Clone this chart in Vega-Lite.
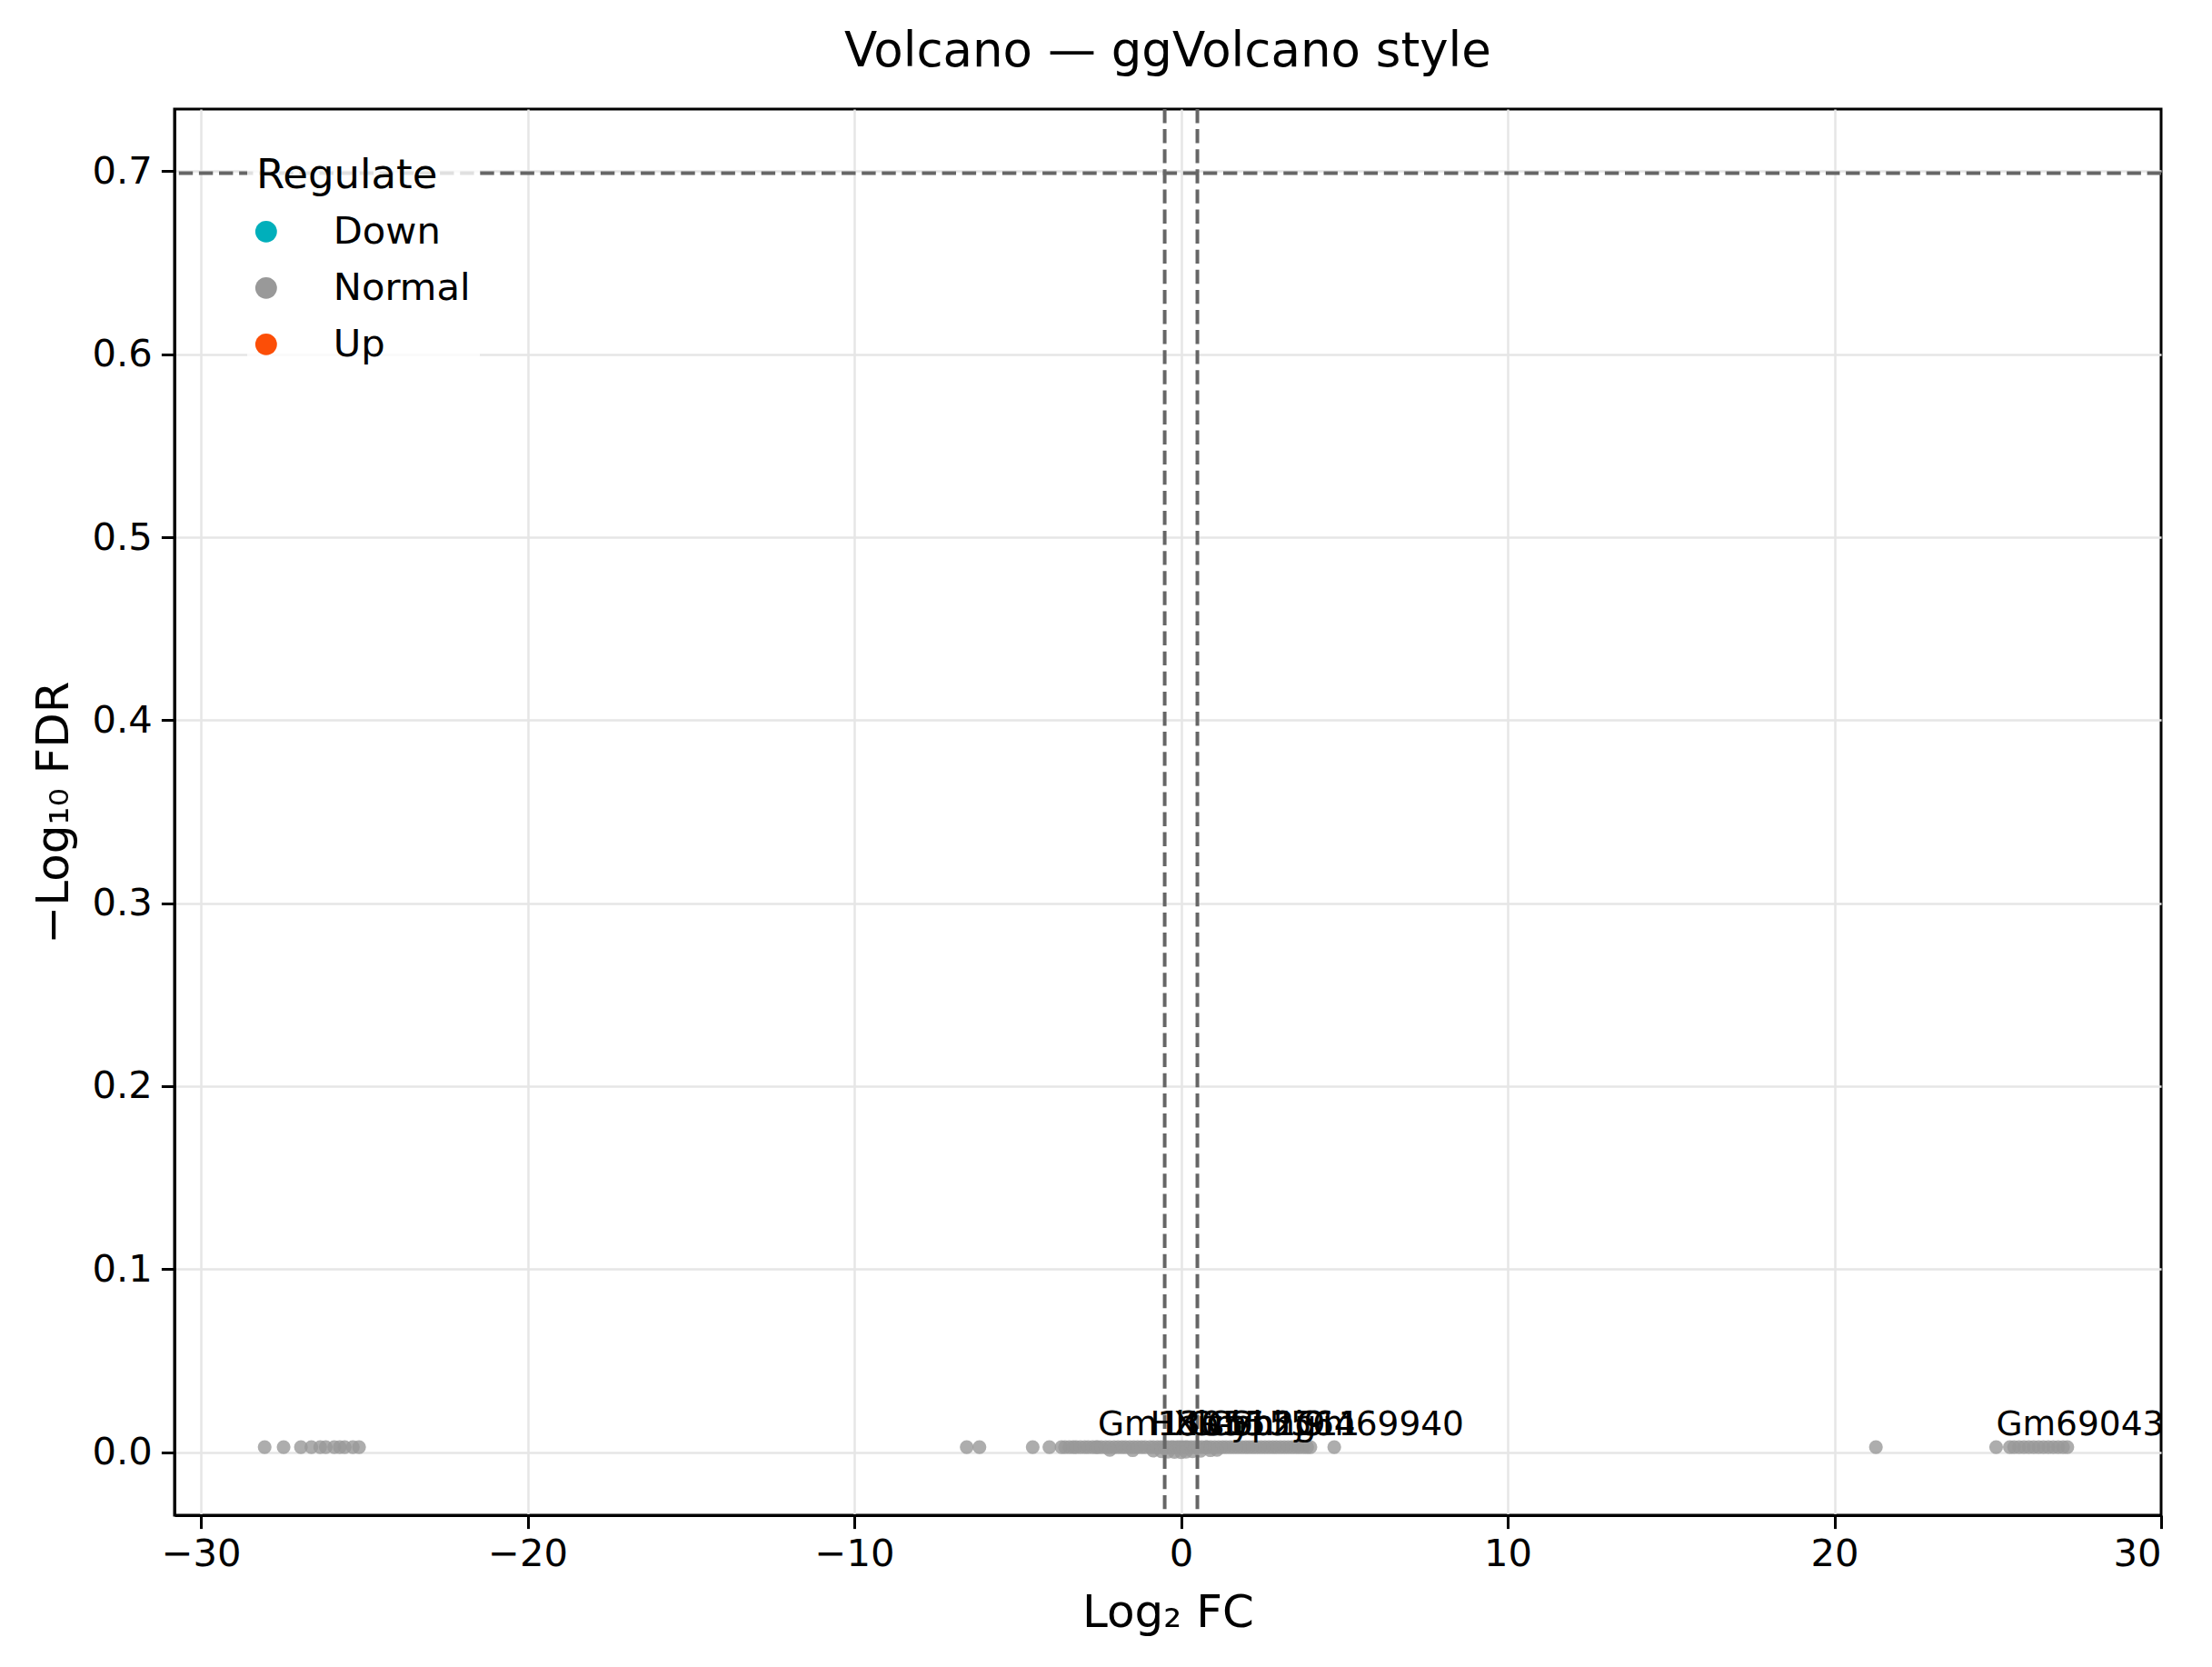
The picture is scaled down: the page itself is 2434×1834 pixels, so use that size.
{
  "$schema": "https://vega.github.io/schema/vega-lite/v6.json",
  "autosize": "none",
  "width": 2186,
  "height": 1547,
  "padding": {"left": 192, "top": 120, "right": 56, "bottom": 167},
  "background": "white",
  "title": {"text": "Volcano — ggVolcano style", "fontSize": 53, "font": "DejaVu Sans", "fontWeight": "normal", "color": "black", "anchor": "middle", "baseline": "alphabetic", "offset": 50, "dy": 58, "frame": "group"},
  "config": {
    "font": "DejaVu Sans",
    "view": {"stroke": "black", "strokeWidth": 3},
    "axis": {
      "domainColor": "black", "domainWidth": 3,
      "tickColor": "black", "tickWidth": 3, "tickSize": 14.6,
      "labelFont": "DejaVu Sans", "labelFontSize": 41.7, "labelColor": "black",
      "titleFont": "DejaVu Sans", "titleFontSize": 50, "titleFontWeight": "normal", "titleColor": "black",
      "gridColor": "#e6e6e6", "gridWidth": 2.5
    }
  },
  "datasets": {
    "genes": [
      {"log2FC": -28.05, "nlogFDR": 0.0027, "Regulate": "Normal", "label": ""},
      {"log2FC": -27.47, "nlogFDR": 0.0027, "Regulate": "Normal", "label": ""},
      {"log2FC": -26.94, "nlogFDR": 0.0027, "Regulate": "Normal", "label": ""},
      {"log2FC": -26.62, "nlogFDR": 0.0027, "Regulate": "Normal", "label": ""},
      {"log2FC": -26.35, "nlogFDR": 0.0027, "Regulate": "Normal", "label": ""},
      {"log2FC": -26.18, "nlogFDR": 0.0027, "Regulate": "Normal", "label": ""},
      {"log2FC": -25.92, "nlogFDR": 0.0027, "Regulate": "Normal", "label": ""},
      {"log2FC": -25.75, "nlogFDR": 0.0027, "Regulate": "Normal", "label": ""},
      {"log2FC": -25.6, "nlogFDR": 0.0027, "Regulate": "Normal", "label": ""},
      {"log2FC": -25.35, "nlogFDR": 0.0027, "Regulate": "Normal", "label": ""},
      {"log2FC": -25.16, "nlogFDR": 0.0027, "Regulate": "Normal", "label": ""},
      {"log2FC": -6.56, "nlogFDR": 0.0027, "Regulate": "Normal", "label": ""},
      {"log2FC": -6.17, "nlogFDR": 0.0027, "Regulate": "Normal", "label": ""},
      {"log2FC": -4.54, "nlogFDR": 0.0027, "Regulate": "Normal", "label": ""},
      {"log2FC": -4.03, "nlogFDR": 0.0027, "Regulate": "Normal", "label": ""},
      {"log2FC": -3.66, "nlogFDR": 0.0027, "Regulate": "Normal", "label": ""},
      {"log2FC": -3.55, "nlogFDR": 0.0027, "Regulate": "Normal", "label": ""},
      {"log2FC": -3.42, "nlogFDR": 0.0027, "Regulate": "Normal", "label": ""},
      {"log2FC": -3.3, "nlogFDR": 0.0027, "Regulate": "Normal", "label": ""},
      {"log2FC": -3.21, "nlogFDR": 0.0027, "Regulate": "Normal", "label": ""},
      {"log2FC": -3.08, "nlogFDR": 0.0027, "Regulate": "Normal", "label": ""},
      {"log2FC": -2.95, "nlogFDR": 0.0027, "Regulate": "Normal", "label": ""},
      {"log2FC": -2.84, "nlogFDR": 0.0027, "Regulate": "Normal", "label": ""},
      {"log2FC": -2.71, "nlogFDR": 0.0027, "Regulate": "Normal", "label": ""},
      {"log2FC": -2.6, "nlogFDR": 0.0027, "Regulate": "Normal", "label": ""},
      {"log2FC": -2.55, "nlogFDR": 0.0027, "Regulate": "Normal", "label": "Gm13055"},
      {"log2FC": -2.44, "nlogFDR": 0.0027, "Regulate": "Normal", "label": ""},
      {"log2FC": -2.31, "nlogFDR": 0.0027, "Regulate": "Normal", "label": ""},
      {"log2FC": -2.19, "nlogFDR": 0.0027, "Regulate": "Normal", "label": ""},
      {"log2FC": -2.05, "nlogFDR": 0.0027, "Regulate": "Normal", "label": ""},
      {"log2FC": -1.93, "nlogFDR": 0.0027, "Regulate": "Normal", "label": ""},
      {"log2FC": -1.81, "nlogFDR": 0.0027, "Regulate": "Normal", "label": ""},
      {"log2FC": -1.7, "nlogFDR": 0.0027, "Regulate": "Normal", "label": ""},
      {"log2FC": -1.57, "nlogFDR": 0.0027, "Regulate": "Normal", "label": ""},
      {"log2FC": -1.45, "nlogFDR": 0.0027, "Regulate": "Normal", "label": ""},
      {"log2FC": -1.33, "nlogFDR": 0.0027, "Regulate": "Normal", "label": ""},
      {"log2FC": -1.21, "nlogFDR": 0.0027, "Regulate": "Normal", "label": ""},
      {"log2FC": -1.1, "nlogFDR": 0.0027, "Regulate": "Normal", "label": ""},
      {"log2FC": -0.95, "nlogFDR": 0.0027, "Regulate": "Normal", "label": "Hbb-bh1"},
      {"log2FC": -0.84, "nlogFDR": 0.0027, "Regulate": "Normal", "label": ""},
      {"log2FC": -0.72, "nlogFDR": 0.0027, "Regulate": "Normal", "label": ""},
      {"log2FC": -0.61, "nlogFDR": 0.0027, "Regulate": "Normal", "label": ""},
      {"log2FC": -0.5, "nlogFDR": 0.0027, "Regulate": "Normal", "label": ""},
      {"log2FC": -0.41, "nlogFDR": 0.0027, "Regulate": "Normal", "label": ""},
      {"log2FC": -0.3, "nlogFDR": 0.0027, "Regulate": "Normal", "label": ""},
      {"log2FC": -0.23, "nlogFDR": 0.0027, "Regulate": "Normal", "label": "Xist"},
      {"log2FC": -0.12, "nlogFDR": 0.0027, "Regulate": "Normal", "label": ""},
      {"log2FC": -0.04, "nlogFDR": 0.0027, "Regulate": "Normal", "label": ""},
      {"log2FC": 0.05, "nlogFDR": 0.0027, "Regulate": "Normal", "label": ""},
      {"log2FC": 0.14, "nlogFDR": 0.0027, "Regulate": "Normal", "label": ""},
      {"log2FC": 0.2, "nlogFDR": 0.0027, "Regulate": "Normal", "label": "Gm15564"},
      {"log2FC": 0.31, "nlogFDR": 0.0027, "Regulate": "Normal", "label": ""},
      {"log2FC": 0.42, "nlogFDR": 0.0027, "Regulate": "Normal", "label": ""},
      {"log2FC": 0.53, "nlogFDR": 0.0027, "Regulate": "Normal", "label": ""},
      {"log2FC": 0.64, "nlogFDR": 0.0027, "Regulate": "Normal", "label": ""},
      {"log2FC": 0.76, "nlogFDR": 0.0027, "Regulate": "Normal", "label": ""},
      {"log2FC": 0.8, "nlogFDR": 0.0027, "Regulate": "Normal", "label": "Cyp2j9"},
      {"log2FC": 0.91, "nlogFDR": 0.0027, "Regulate": "Normal", "label": ""},
      {"log2FC": 1.03, "nlogFDR": 0.0027, "Regulate": "Normal", "label": ""},
      {"log2FC": 1.15, "nlogFDR": 0.0027, "Regulate": "Normal", "label": ""},
      {"log2FC": 1.27, "nlogFDR": 0.0027, "Regulate": "Normal", "label": ""},
      {"log2FC": 1.38, "nlogFDR": 0.0027, "Regulate": "Normal", "label": ""},
      {"log2FC": 1.5, "nlogFDR": 0.0027, "Regulate": "Normal", "label": "Snhg11"},
      {"log2FC": 1.62, "nlogFDR": 0.0027, "Regulate": "Normal", "label": ""},
      {"log2FC": 1.74, "nlogFDR": 0.0027, "Regulate": "Normal", "label": ""},
      {"log2FC": 1.86, "nlogFDR": 0.0027, "Regulate": "Normal", "label": ""},
      {"log2FC": 1.98, "nlogFDR": 0.0027, "Regulate": "Normal", "label": ""},
      {"log2FC": 2.09, "nlogFDR": 0.0027, "Regulate": "Normal", "label": ""},
      {"log2FC": 2.21, "nlogFDR": 0.0027, "Regulate": "Normal", "label": ""},
      {"log2FC": 2.33, "nlogFDR": 0.0027, "Regulate": "Normal", "label": ""},
      {"log2FC": 2.45, "nlogFDR": 0.0027, "Regulate": "Normal", "label": ""},
      {"log2FC": 2.57, "nlogFDR": 0.0027, "Regulate": "Normal", "label": ""},
      {"log2FC": 2.69, "nlogFDR": 0.0027, "Regulate": "Normal", "label": ""},
      {"log2FC": 2.81, "nlogFDR": 0.0027, "Regulate": "Normal", "label": ""},
      {"log2FC": 2.92, "nlogFDR": 0.0027, "Regulate": "Normal", "label": ""},
      {"log2FC": 3.04, "nlogFDR": 0.0027, "Regulate": "Normal", "label": ""},
      {"log2FC": 3.16, "nlogFDR": 0.0027, "Regulate": "Normal", "label": ""},
      {"log2FC": 3.28, "nlogFDR": 0.0027, "Regulate": "Normal", "label": ""},
      {"log2FC": 3.4, "nlogFDR": 0.0027, "Regulate": "Normal", "label": ""},
      {"log2FC": 3.52, "nlogFDR": 0.0027, "Regulate": "Normal", "label": "Gm69940"},
      {"log2FC": 3.63, "nlogFDR": 0.0027, "Regulate": "Normal", "label": ""},
      {"log2FC": 3.75, "nlogFDR": 0.0027, "Regulate": "Normal", "label": ""},
      {"log2FC": 3.86, "nlogFDR": 0.0027, "Regulate": "Normal", "label": ""},
      {"log2FC": 3.96, "nlogFDR": 0.0027, "Regulate": "Normal", "label": ""},
      {"log2FC": 4.69, "nlogFDR": 0.0027, "Regulate": "Normal", "label": ""},
      {"log2FC": -2.18, "nlogFDR": 0.0012, "Regulate": "Normal", "label": ""},
      {"log2FC": -1.48, "nlogFDR": 0.001, "Regulate": "Normal", "label": ""},
      {"log2FC": -0.85, "nlogFDR": 0.0008, "Regulate": "Normal", "label": ""},
      {"log2FC": -0.6, "nlogFDR": 0.0004, "Regulate": "Normal", "label": ""},
      {"log2FC": -0.4, "nlogFDR": 0.0002, "Regulate": "Normal", "label": ""},
      {"log2FC": -0.2, "nlogFDR": 0.0001, "Regulate": "Normal", "label": ""},
      {"log2FC": 0.0, "nlogFDR": 0.0, "Regulate": "Normal", "label": ""},
      {"log2FC": 0.15, "nlogFDR": 0.0002, "Regulate": "Normal", "label": ""},
      {"log2FC": 0.35, "nlogFDR": 0.0004, "Regulate": "Normal", "label": ""},
      {"log2FC": 0.6, "nlogFDR": 0.0007, "Regulate": "Normal", "label": ""},
      {"log2FC": 0.9, "nlogFDR": 0.001, "Regulate": "Normal", "label": ""},
      {"log2FC": 1.1, "nlogFDR": 0.0012, "Regulate": "Normal", "label": ""},
      {"log2FC": 21.27, "nlogFDR": 0.0027, "Regulate": "Normal", "label": ""},
      {"log2FC": 24.95, "nlogFDR": 0.0027, "Regulate": "Normal", "label": "Gm69043"},
      {"log2FC": 25.37, "nlogFDR": 0.0027, "Regulate": "Normal", "label": ""},
      {"log2FC": 25.5, "nlogFDR": 0.0027, "Regulate": "Normal", "label": ""},
      {"log2FC": 25.65, "nlogFDR": 0.0027, "Regulate": "Normal", "label": ""},
      {"log2FC": 25.8, "nlogFDR": 0.0027, "Regulate": "Normal", "label": ""},
      {"log2FC": 25.95, "nlogFDR": 0.0027, "Regulate": "Normal", "label": ""},
      {"log2FC": 26.1, "nlogFDR": 0.0027, "Regulate": "Normal", "label": ""},
      {"log2FC": 26.25, "nlogFDR": 0.0027, "Regulate": "Normal", "label": ""},
      {"log2FC": 26.4, "nlogFDR": 0.0027, "Regulate": "Normal", "label": ""},
      {"log2FC": 26.55, "nlogFDR": 0.0027, "Regulate": "Normal", "label": ""},
      {"log2FC": 26.7, "nlogFDR": 0.0027, "Regulate": "Normal", "label": ""},
      {"log2FC": 26.85, "nlogFDR": 0.0027, "Regulate": "Normal", "label": ""},
      {"log2FC": 27.0, "nlogFDR": 0.0027, "Regulate": "Normal", "label": ""},
      {"log2FC": 27.13, "nlogFDR": 0.0027, "Regulate": "Normal", "label": ""}
    ],
    "vlines": [{"fc": -0.5}, {"fc": 0.5}],
    "hlines": [{"fdr": 0.699}]
  },
  "layer": [
    {
      "data": {"name": "genes"},
      "mark": {"type": "circle", "size": 230, "opacity": 0.8, "strokeWidth": 0},
      "encoding": {
        "x": {"field": "log2FC", "type": "quantitative",
          "scale": {"domain": [-30.81, 30], "nice": false, "zero": false},
          "axis": {"values": [-30, -20, -10, 0, 10, 20, 30], "format": "d", "labelPadding": 8, "title": "Log₂ FC", "titleBaseline": "middle", "titleY": 107,
            "gridOpacity": {"condition": {"test": "datum.value >= 30", "value": 0}, "value": 1}}},
        "y": {"field": "nlogFDR", "type": "quantitative",
          "scale": {"domain": [-0.0345, 0.734], "nice": false, "zero": false},
          "axis": {"values": [0, 0.1, 0.2, 0.3, 0.4, 0.5, 0.6, 0.7], "format": ".1f", "labelPadding": 10, "title": "−Log₁₀ FDR", "titleAngle": -90, "titleBaseline": "middle", "titleX": -133, "titleY": 773.5}},
        "color": {"field": "Regulate", "type": "nominal",
          "scale": {"domain": ["Down", "Normal", "Up"], "range": ["#00AFBB", "#999999", "#FC4E07"]},
          "legend": {"title": "Regulate", "orient": "none", "legendX": 80, "legendY": 41,
            "titleFontSize": 45, "titleFontWeight": "normal", "titleColor": "black", "titleFont": "DejaVu Sans", "titleLimit": 600,
            "labelFontSize": 41.7, "labelColor": "black", "labelFont": "DejaVu Sans", "labelLimit": 600,
            "symbolSize": 570, "symbolType": "circle", "symbolOpacity": 1, "symbolStrokeWidth": 0, "symbolOffset": -10,
            "fillColor": "rgba(255,255,255,0.8)", "padding": 10, "rowPadding": 19, "titlePadding": 18, "labelOffset": 53}}
      }
    },
    {
      "data": {"name": "vlines"},
      "mark": {"type": "rule", "color": "#666666", "strokeWidth": 4, "strokeDash": [15.4, 6.7]},
      "encoding": {"x": {"field": "fc", "type": "quantitative"}}
    },
    {
      "data": {"name": "hlines"},
      "mark": {"type": "rule", "color": "#666666", "strokeWidth": 4, "strokeDash": [15.4, 6.7]},
      "encoding": {"y": {"field": "fdr", "type": "quantitative"}}
    },
    {
      "data": {"name": "genes"},
      "transform": [{"filter": "datum.label != ''"}],
      "mark": {"type": "text", "align": "left", "baseline": "alphabetic", "dy": -13, "fontSize": 37.5, "font": "DejaVu Sans", "color": "black", "clip": true},
      "encoding": {
        "x": {"field": "log2FC", "type": "quantitative"},
        "y": {"field": "nlogFDR", "type": "quantitative"},
        "text": {"field": "label"}
      }
    }
  ]
}
